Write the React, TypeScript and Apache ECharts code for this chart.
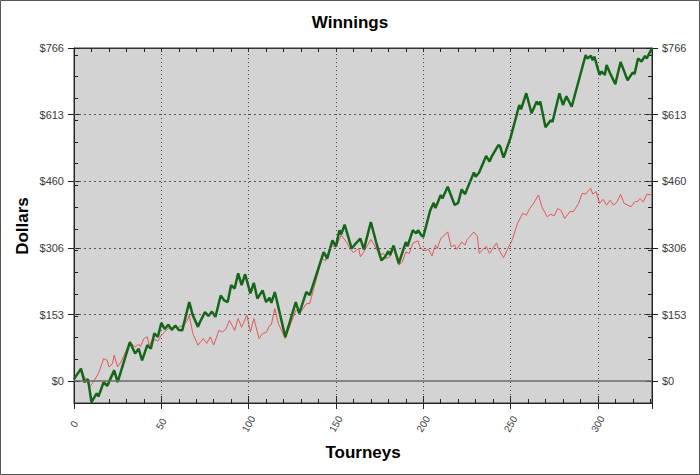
import React, { useEffect, useRef } from "react";
import * as echarts from "echarts";

const greenTourneys = [0,4,6,8,10,13,14,17,19,20,23,25,32,35,37,39,42,44,46,48,50,52,54,56,58,60,62,66,68,71,72,75,77,79,81,84,86,88,90,92,94,96,98,101,103,105,108,110,112,113,115,121,127,129,133,135,143,145,148,150,152,153,155,159,161,164,166,170,173,176,178,180,181,183,186,190,191,194,196,197,199,200,204,206,207,210,211,214,218,220,222,224,225,229,230,232,236,238,239,243,244,246,250,255,256,259,262,265,266,267,270,273,274,278,280,282,285,293,294,296,297,298,301,302,304,305,307,310,313,317,320,321,323,325,327,328,331];
const greenDollars = [5,29,-2,5,-48,-28,-35,-2,-11,-2,25,-2,90,64,75,48,83,75,110,102,134,120,130,118,128,118,117,182,152,125,135,159,150,160,148,197,186,182,221,213,248,221,246,202,226,190,209,182,192,180,205,102,182,156,205,198,297,282,324,310,347,338,360,305,315,328,303,366,320,278,285,299,290,312,271,320,310,347,340,347,335,332,393,410,398,428,420,447,405,410,441,430,441,480,470,480,518,505,515,543,540,514,560,635,625,662,616,643,636,643,584,600,596,662,635,655,631,750,742,748,738,746,704,712,704,727,708,683,734,692,710,706,742,735,748,742,766];

const redTourneys = [0,4,6,9,11,14,17,19,20,22,23,25,27,32,35,37,38,40,42,43,45,47,48,50,54,56,60,63,65,66,68,71,74,76,78,80,83,85,87,89,92,94,96,99,101,103,106,108,110,112,113,115,117,121,127,130,133,135,142,144,147,150,153,156,158,160,163,164,166,170,173,175,177,179,181,183,186,188,190,192,194,197,198,199,201,203,205,207,208,210,214,216,218,219,222,224,225,229,231,232,234,236,238,242,243,246,251,254,257,259,261,263,266,268,271,273,275,277,279,281,284,286,289,291,293,294,296,297,299,301,303,305,307,309,311,313,315,317,319,321,323,324,326,328,331];
const redDollars = [5,29,10,-13,-2,18,52,48,33,40,60,33,45,90,79,85,79,98,102,83,95,95,92,106,121,123,124,130,140,152,110,83,98,87,102,83,117,113,120,140,117,144,124,152,113,144,98,110,112,128,130,167,133,98,163,160,178,179,282,277,313,308,336,320,305,296,305,286,298,326,306,290,294,282,286,305,267,274,297,294,317,323,310,305,300,303,288,313,305,328,343,309,313,303,320,313,325,343,333,294,302,310,294,318,305,284,326,363,386,382,397,408,428,400,378,384,380,397,392,374,390,390,409,432,430,436,443,430,436,409,418,405,416,405,412,430,409,405,401,412,414,420,412,430,428];

const yMajorTicks = [0, 153.2, 306.4, 459.6, 612.8, 766];
const yMinorTicks = [-50, 0, 50, 100, 150, 200, 250, 300, 350, 400, 450, 500, 550, 600, 650, 700, 750];
const yGridLines = [153.2, 306.4, 459.6, 612.8];
const xGridLines = [50, 100, 150, 200, 250, 300];

const FONT = 'Arial, "Liberation Sans", sans-serif';
const X_MIN = 0;
const X_MAX = 331;
const Y_MIN = -50;
const Y_MAX = 766;

export default function App() {
  const ref = useRef<HTMLDivElement>(null);

  useEffect(() => {
    if (!ref.current) return;
    const chart = echarts.init(ref.current, undefined, { renderer: "svg" });

    const axisColor = "#222";
    const labelColor = "#3a3a3a";

    const xBase = { type: "value", min: X_MIN, max: X_MAX, splitLine: { show: false } };
    const yBase = { type: "value", min: Y_MIN, max: Y_MAX, splitLine: { show: false } };
    const line = (show: boolean, color = axisColor) => ({ show, onZero: false, lineStyle: { color, width: 1 } });

    const option: any = {
      animation: false,
      backgroundColor: "#ffffff",
      grid: {
        left: 74,
        right: 48,
        top: 48,
        bottom: 72,
        show: true,
        backgroundColor: "#d3d3d3",
        borderColor: "#333",
        borderWidth: 1,
      },
      xAxis: [
        {
          ...xBase,
          position: "bottom",
          interval: 10,
          axisLine: line(true),
          axisTick: { show: true, inside: true, length: 4, lineStyle: { color: axisColor } },
          axisLabel: {
            show: true,
            rotate: 60,
            align: "center",
            verticalAlign: "middle",
            margin: 21,
            fontSize: 10,
            fontFamily: FONT,
            color: labelColor,
            formatter: (v: number) => (v % 50 === 0 ? String(v) : ""),
          },
        },
        {
          ...xBase,
          position: "bottom",
          interval: 50,
          axisLine: line(false),
          axisTick: { show: true, inside: false, length: 6, lineStyle: { color: axisColor } },
          axisLabel: { show: false },
        },
        {
          ...xBase,
          position: "bottom",
          interval: 50,
          axisLine: line(false),
          axisTick: { show: true, inside: true, length: 7, lineStyle: { color: axisColor } },
          axisLabel: { show: false },
        },
        {
          ...xBase,
          position: "top",
          interval: 10,
          axisLine: line(true, "#333"),
          axisTick: { show: true, inside: true, length: 4, lineStyle: { color: axisColor } },
          axisLabel: { show: false },
        },
      ],
      yAxis: [
        {
          ...yBase,
          position: "left",
          axisLine: line(true),
          axisTick: { show: true, inside: true, length: 4, customValues: yMinorTicks, lineStyle: { color: axisColor } },
          axisLabel: { show: false },
        },
        {
          ...yBase,
          position: "left",
          axisLine: line(false),
          axisTick: { show: true, inside: false, length: 6, customValues: yMajorTicks, lineStyle: { color: axisColor } },
          axisLabel: {
            show: true,
            customValues: yMajorTicks,
            margin: 10,
            fontSize: 11,
            fontFamily: FONT,
            color: labelColor,
            formatter: (v: number) => "$" + Math.round(v),
          },
        },
        {
          ...yBase,
          position: "left",
          axisLine: line(false),
          axisTick: { show: true, inside: true, length: 6, customValues: yMajorTicks, lineStyle: { color: axisColor } },
          axisLabel: { show: false },
        },
        {
          ...yBase,
          position: "right",
          axisLine: line(true),
          axisTick: { show: true, inside: true, length: 4, customValues: yMinorTicks, lineStyle: { color: axisColor } },
          axisLabel: { show: false },
        },
        {
          ...yBase,
          position: "right",
          axisLine: line(false),
          axisTick: { show: true, inside: false, length: 6, customValues: yMajorTicks, lineStyle: { color: axisColor } },
          axisLabel: {
            show: true,
            customValues: yMajorTicks,
            margin: 10,
            fontSize: 11,
            fontFamily: FONT,
            color: labelColor,
            formatter: (v: number) => "$" + Math.round(v),
          },
        },
        {
          ...yBase,
          position: "right",
          axisLine: line(false),
          axisTick: { show: true, inside: true, length: 6, customValues: yMajorTicks, lineStyle: { color: axisColor } },
          axisLabel: { show: false },
        },
      ],
      graphic: [
        {
          type: "rect",
          z: 100,
          silent: true,
          shape: { x: 0.5, y: 0.5, width: 699, height: 474 },
          style: { fill: "none", stroke: "#555", lineWidth: 1 },
        },
        {
          type: "text",
          x: 350,
          y: 22,
          style: {
            text: "Winnings",
            fontSize: 17,
            fontWeight: "bold",
            fontFamily: FONT,
            fill: "#000",
            align: "center",
            verticalAlign: "middle",
          },
        },
        {
          type: "text",
          x: 22,
          y: 226,
          rotation: Math.PI / 2,
          style: {
            text: "Dollars",
            fontSize: 17,
            fontWeight: "bold",
            fontFamily: FONT,
            fill: "#000",
            align: "center",
            verticalAlign: "middle",
          },
        },
        {
          type: "text",
          x: 363,
          y: 452,
          style: {
            text: "Tourneys",
            fontSize: 17,
            fontWeight: "bold",
            fontFamily: FONT,
            fill: "#000",
            align: "center",
            verticalAlign: "middle",
          },
        },
      ],
      series: [
        {
          type: "line",
          name: "grid",
          xAxisIndex: 0,
          yAxisIndex: 0,
          data: [],
          z: 1,
          silent: true,
          markLine: {
            silent: true,
            symbol: "none",
            label: { show: false },
            animation: false,
            data: [
              ...yGridLines.map((v) => ({ yAxis: v, lineStyle: { type: [2, 3], color: "#555", width: 1 } })),
              ...xGridLines.map((v) => ({ xAxis: v, lineStyle: { type: [1, 3], color: "#444", width: 1 } })),
              { yAxis: 0, lineStyle: { type: "solid", color: "#6a6a6a", width: 1.5 } },
            ],
          },
        },
        {
          type: "line",
          name: "Red",
          xAxisIndex: 0,
          yAxisIndex: 0,
          z: 3,
          showSymbol: false,
          symbol: "none",
          data: redTourneys.map((t, i) => [t, redDollars[i]]),
          lineStyle: { color: "#e0585a", width: 1 },
        },
        {
          type: "line",
          name: "Green",
          xAxisIndex: 0,
          yAxisIndex: 0,
          z: 4,
          showSymbol: false,
          symbol: "none",
          data: greenTourneys.map((t, i) => [t, greenDollars[i]]),
          lineStyle: { color: "#16661a", width: 2.5 },
        },
      ],
    };

    chart.setOption(option);
    return () => chart.dispose();
  }, []);

  return (
    <div
      ref={ref}
      style={{ position: "fixed", left: 0, top: 0, width: 700, height: 475, background: "#fff" }}
    />
  );
}
